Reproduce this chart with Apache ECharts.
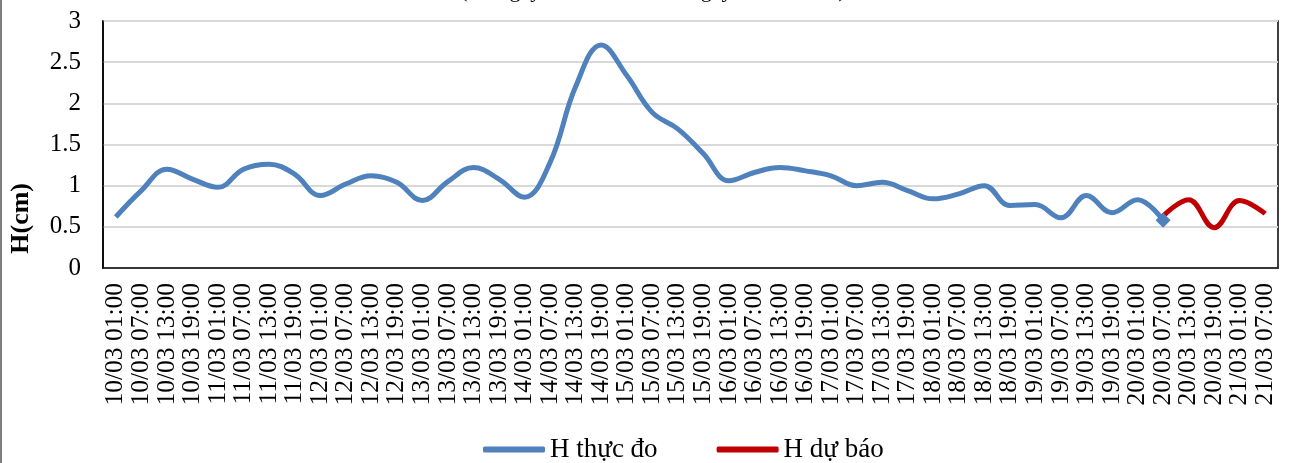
<!DOCTYPE html>
<html>
<head>
<meta charset="utf-8">
<script src="https://cdn.jsdelivr.net/npm/echarts@6/dist/echarts.min.js"></script>
<style>html,body{margin:0;padding:0;background:#fff;}#c{width:1306px;height:463px;}</style>
</head>
<body>
<div id="c"></div>
<script>
const titleText = '(Từ ngày 10/03/2025 đến ngày 21/03/2025)';
const categories = [
 '10/03 01:00','10/03 07:00','10/03 13:00','10/03 19:00',
 '11/03 01:00','11/03 07:00','11/03 13:00','11/03 19:00',
 '12/03 01:00','12/03 07:00','12/03 13:00','12/03 19:00',
 '13/03 01:00','13/03 07:00','13/03 13:00','13/03 19:00',
 '14/03 01:00','14/03 07:00','14/03 13:00','14/03 19:00',
 '15/03 01:00','15/03 07:00','15/03 13:00','15/03 19:00',
 '16/03 01:00','16/03 07:00','16/03 13:00','16/03 19:00',
 '17/03 01:00','17/03 07:00','17/03 13:00','17/03 19:00',
 '18/03 01:00','18/03 07:00','18/03 13:00','18/03 19:00',
 '19/03 01:00','19/03 07:00','19/03 13:00','19/03 19:00',
 '20/03 01:00','20/03 07:00','20/03 13:00','20/03 19:00',
 '21/03 01:00','21/03 07:00'
];
const measured = [0.62, 0.94, 1.2, 1.08, 0.98, 1.2, 1.26, 1.14, 0.88, 1.02, 1.12, 1.04, 0.82, 1.05, 1.22, 1.08, 0.86, 1.28, 2.2, 2.71, 2.34, 1.89, 1.69, 1.39, 1.06, 1.16, 1.22, 1.18, 1.12, 1.0, 1.04, 0.94, 0.84, 0.9, 1.0, 0.76, 0.77, 0.61, 0.88, 0.67, 0.83, 0.58];
const forecastStart = 41;
const forecast = [0.63, 0.83, 0.49, 0.82, 0.66];
const yTicks = {min: 0, max: 3, interval: 0.5};

const measuredData = categories.map((c, i) => {
  if (i >= measured.length) return null;
  if (i === measured.length - 1) return {value: measured[i], symbol: 'diamond', symbolSize: 15};
  return measured[i];
});
const forecastData = categories.map((c, i) => {
  const k = i - forecastStart;
  return (k >= 0 && k < forecast.length) ? forecast[k] : null;
});

const serif = '"Liberation Serif","Times New Roman",serif';
const chart = echarts.init(document.getElementById('c'), null, {renderer: 'canvas'});
chart.setOption({
  animation: false,
  backgroundColor: '#fff',
  title: {
    text: titleText, left: 'center', top: -20, padding: 0,
    textStyle: {fontFamily: serif, fontSize: 22, fontWeight: 'normal', color: '#000'}
  },
  grid: {left: 103, right: 28, top: 21, bottom: 195, show: true, borderColor: '#000', borderWidth: 1.5, containLabel: false},
  legend: {
    left: 478, top: 431, itemWidth: 62, itemHeight: 6, itemGap: 59,
    textStyle: {fontFamily: serif, fontSize: 27, color: '#000'},
    data: [{name: 'H thực đo', icon: 'roundRect'}, {name: 'H dự báo', icon: 'roundRect'}]
  },
  xAxis: {
    type: 'category', data: categories, boundaryGap: true,
    axisLine: {lineStyle: {color: '#000', width: 1.5}},
    axisTick: {show: false},
    axisLabel: {interval: 0, rotate: 90, margin: 15, fontFamily: serif, fontSize: 25.5, color: '#000'},
    splitLine: {show: false}
  },
  yAxis: {
    type: 'value', min: yTicks.min, max: yTicks.max, interval: yTicks.interval,
    axisLine: {show: true, lineStyle: {color: '#000', width: 1.5}},
    axisTick: {show: false},
    axisLabel: {margin: 22, fontFamily: serif, fontSize: 25, color: '#000'},
    splitLine: {lineStyle: {color: '#D9D9D9', width: 2}}
  },
  graphic: [
    {type: 'text', left: 8, top: 183, rotation: Math.PI / 2,
     style: {text: 'H(cm)', font: 'bold 26px ' + serif, fill: '#000'}},
    {type: 'line', shape: {x1: 1, y1: 0, x2: 1, y2: 463}, style: {stroke: '#555', lineWidth: 1.5}}
  ],
  series: [
    {name: 'H thực đo', type: 'line', data: measuredData, smooth: 0.4, symbol: 'none', connectNulls: false,
     lineStyle: {color: '#4F81BD', width: 5}, itemStyle: {color: '#4F81BD'}},
    {name: 'H dự báo', type: 'line', data: forecastData, smooth: 0.4, symbol: 'none',
     lineStyle: {color: '#C00000', width: 5}, itemStyle: {color: '#C00000'}}
  ]
});
</script>
</body>
</html>
